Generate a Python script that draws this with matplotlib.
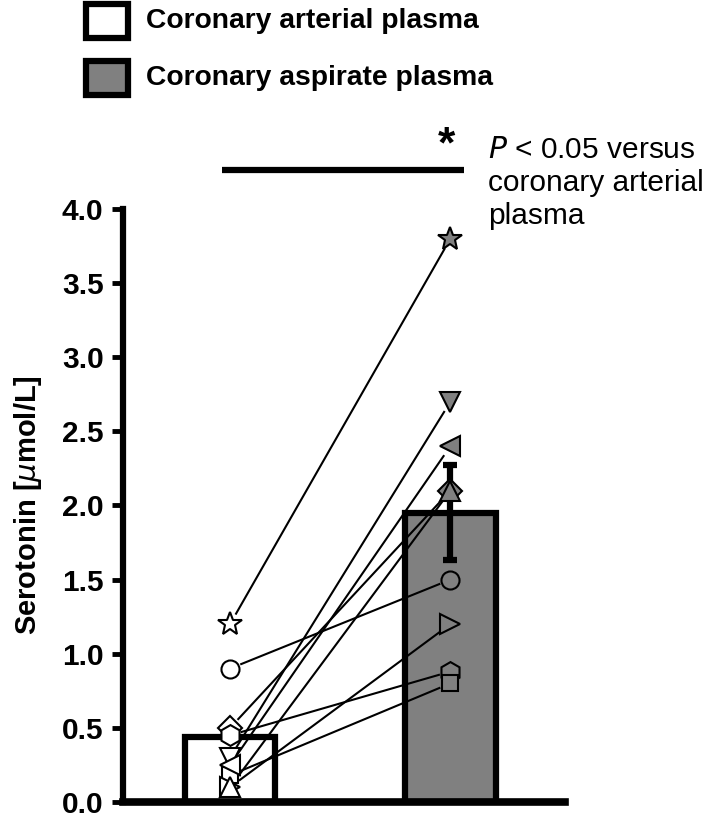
import numpy as np
import matplotlib
matplotlib.use('Agg')
import matplotlib.pyplot as plt
from matplotlib.patches import Rectangle

plt.rcParams['font.family'] = ['Liberation Sans', 'DejaVu Sans']

# data: one value per subject, arterial vs aspirate
groups = ['Coronary arterial plasma', 'Coronary aspirate plasma']
markers = ['*', 'o', 'D', 'h', 's', '>', 'v', '<', '^']
arterial = [1.2, 0.9, 0.5, 0.45, 0.18, 0.1, 0.3, 0.25, 0.1]
aspirate = [3.8, 1.5, 2.1, 0.88, 0.8, 1.2, 2.7, 2.4, 2.1]
bar_means = [0.44, 1.95]
aspirate_sem = 0.32
yticks = [0.0, 0.5, 1.0, 1.5, 2.0, 2.5, 3.0, 3.5, 4.0]
gray = '#808080'

fig = plt.figure(figsize=(7.09, 8.25), dpi=100)
ax = fig.add_axes([0.1735, 0.0279, 0.6234, 0.7188])

# bars
ax.bar([0, 1], bar_means, width=0.41, color=['white', gray],
       edgecolor='black', linewidth=4.5, zorder=2)

# error bar on aspirate bar
ax.errorbar([1], [bar_means[1]], yerr=[aspirate_sem], fmt='none', ecolor='black',
            elinewidth=4.5, capsize=5, capthick=4.5, zorder=3)

ax.set_xlim(-0.486, 1.52)
ax.set_ylim(0, 4.0)
ax.set_yticks(yticks)
ax.set_yticklabels([f'{v:.1f}' for v in yticks], fontsize=21.5, fontweight='bold')
ax.set_xticks([])
ax.tick_params(axis='y', length=8, width=3.5, pad=6)
for s in ['top', 'right']:
    ax.spines[s].set_visible(False)
ax.spines['left'].set_linewidth(4.5)
ax.spines['bottom'].set_linewidth(5.5)
ax.set_ylabel('Serotonin [$\\mathit{\\mu}$mol/L]', fontsize=21, fontweight='bold', labelpad=13)

# paired lines, shortened a bit at the ends so they stop short of the markers
fig.canvas.draw()
gap = 12  # pixels
for a, b in zip(arterial, aspirate):
    p0 = ax.transData.transform((0, a))
    p1 = ax.transData.transform((1, b))
    d = p1 - p0
    u = d / np.hypot(*d)
    q0 = ax.transData.inverted().transform(p0 + u * gap)
    q1 = ax.transData.inverted().transform(p1 - u * gap)
    ax.plot([q0[0], q1[0]], [q0[1], q1[1]], color='black', lw=1.5, zorder=4)

sizes = {'*': 18, 'D': 12, 'o': 13, 's': 12}
for m, a, b in zip(markers, arterial, aspirate):
    ms = sizes.get(m, 15)
    ax.plot(0, a, marker=m, ms=ms, mfc='white', mec='black', mew=1.5, ls='none', zorder=5)
    ax.plot(1, b, marker=m, ms=ms, mfc=gray, mec='black', mew=1.5, ls='none', zorder=5)

# significance bar
ax.plot([-0.036, 1.06], [4.26, 4.26], color='black', lw=4.5, clip_on=False,
        solid_capstyle='butt')
ax.text(0.98, 4.29, '*', fontsize=32, fontweight='bold', ha='center', va='bottom')
fig.text(0.688, 0.778, '$\\mathit{P}$ < 0.05 versus\ncoronary arterial\nplasma',
         fontsize=21.5, ha='left', va='center', linespacing=1.22)

# legend drawn by hand
for i, (lab, fc) in enumerate(zip(groups, ['white', gray])):
    y0 = 0.954 - i * 0.069
    fig.patches.append(Rectangle((0.122, y0), 0.058, 0.041, transform=fig.transFigure,
                                 facecolor=fc, edgecolor='black', linewidth=4.5))
    fig.text(0.206, y0 + 0.021, lab, fontsize=20.3, fontweight='bold', ha='left', va='center')

plt.savefig('out.png', dpi=100)
